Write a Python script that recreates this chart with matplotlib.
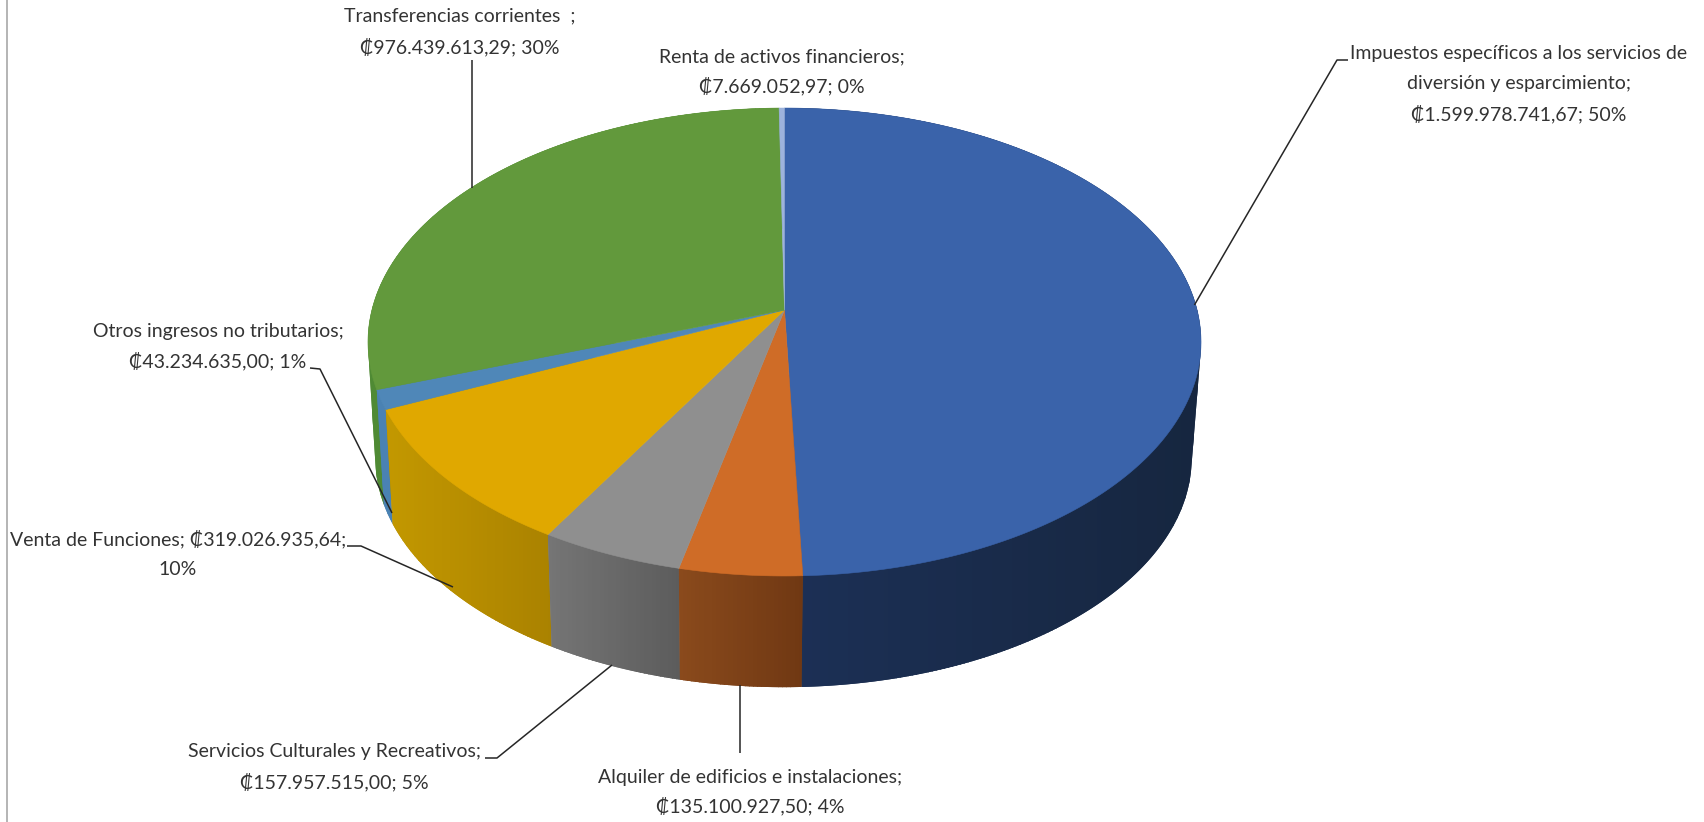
import numpy as np
import matplotlib
matplotlib.use("Agg")
import matplotlib.pyplot as plt
from matplotlib.patches import Polygon
from matplotlib.colors import to_rgb

# ---- data (clockwise from 12 o'clock) ----
categories = ["Impuestos específicos a los servicios de\ndiversión y esparcimiento;",
              "Alquiler de edificios e instalaciones;",
              "Servicios Culturales y Recreativos;",
              "Venta de Funciones; ",
              "Otros ingresos no tributarios;",
              "Transferencias corrientes  ;",
              "Renta de activos financieros;"]
values = [1599978741.67, 135100927.50, 157957515.00, 319026935.64,
          43234635.00, 976439613.29, 7669052.97]
amounts = ["₡1.599.978.741,67", "₡135.100.927,50", "₡157.957.515,00", "₡319.026.935,64",
           "₡43.234.635,00", "₡976.439.613,29", "₡7.669.052,97"]
percents = ["50%", "4%", "5%", "10%", "1%", "30%", "0%"]

top_colors = ["#3a63aa", "#cf6c27", "#8f8f8f", "#e0a800", "#4f87b8", "#62993c", "#9db3dc"]
side_left = ["#1c3056", "#8a4a1c", "#757575", "#c39800", "#4a82b3", "#4f8a34", "#6f83a8"]
side_right = ["#16263f", "#703813", "#5c5c5c", "#aa8200", "#4a82b3", "#4f8a34", "#6f83a8"]

CX, CY, RX, RY, K = 784.5, 310.0, 412.6, 229.6, 0.1368
F, CX2, CY2 = 0.98, 783.5, 426.5
TXT = "#333333"
FONT = ["Lato", "DejaVu Sans"]
FS = 14.05


def project(theta, f=1.0, cx=CX, cy=CY):
    """theta measured clockwise from the far point of the disc."""
    X, Y = np.sin(theta), -np.cos(theta)
    d = 1 - K * Y
    return cx + f * RX * X / d, cy + f * RY * Y / d


def hull(pts):
    pts = sorted(set(map(tuple, np.round(pts, 3))))
    def half(seq):
        out = []
        for p in seq:
            while len(out) > 1 and ((out[-1][0] - out[-2][0]) * (p[1] - out[-2][1])
                                    - (out[-1][1] - out[-2][1]) * (p[0] - out[-2][0])) <= 0:
                out.pop()
            out.append(p)
        return out
    lo, up = half(pts), half(pts[::-1])
    return np.array(lo[:-1] + up[:-1])


fig = plt.figure(figsize=(17.04, 8.22), dpi=100, facecolor="white")
ax = fig.add_axes([0, 0, 1, 1])
ax.set_xlim(0, 1704)
ax.set_ylim(822, 0)
ax.axis("off")

# chart-area border at the left
ax.plot([6.5, 6.5], [0, 822], color="#a8a8a8", lw=1.2, zorder=1)

fracs = np.array(values) / np.sum(values)
edges = np.concatenate([[0], np.cumsum(fracs)]) * 2 * np.pi

# side wall: one solid base per slice, then gradient bands clipped to it
order = sorted(range(len(values)),
               key=lambda i: -np.cos((edges[i] + edges[i + 1]) / 2))
for i in order:
    n = max(2, int(np.degrees(edges[i + 1] - edges[i]) * 2))
    th = np.linspace(edges[i], edges[i + 1], n + 1)
    xt, yt = project(th)
    xb, yb = project(th, f=F, cx=CX2, cy=CY2)
    cl, cr = np.array(to_rgb(side_left[i])), np.array(to_rgb(side_right[i]))
    base = hull(np.column_stack([np.r_[xt, xb], np.r_[yt, yb]]))
    clip = Polygon(base, closed=True, facecolor=tuple((cl + cr) / 2), edgecolor="none", zorder=2)
    ax.add_patch(clip)
    xmin, xmax = base[:, 0].min(), base[:, 0].max()
    steps = max(1, int((xmax - xmin) / 4))
    bounds = np.linspace(xmin, xmax, steps + 1)
    for j in range(steps):
        col = tuple(cl + (cr - cl) * (j + 0.5) / steps)
        band = ax.axvspan(bounds[j], bounds[j + 1] + 0.6, color=col, lw=0, zorder=2)
        band.set_clip_path(clip)

# top face
for i in range(len(values)):
    n = max(2, int(np.degrees(edges[i + 1] - edges[i]) * 2))
    th = np.linspace(edges[i], edges[i + 1], n + 1)
    x, y = project(th)
    pts = np.column_stack([np.r_[CX, x], np.r_[CY, y]])
    ax.add_patch(Polygon(pts, closed=True, facecolor=top_colors[i], edgecolor=top_colors[i],
                         lw=0.4, zorder=3))

# leader lines
leaders = [
    ([1348, 1337, 1194.4], [60, 60, 305]),
    ([740, 740], [685, 753]),
    ([485, 497, 612], [758, 758, 665]),
    ([347, 361, 453], [546, 546, 587]),
    ([310, 320, 392], [368, 369, 513]),
    ([471.5, 471.5], [60, 188]),
]
for xs, ys in leaders:
    ax.plot(xs, ys, color="#262626", lw=1.1, zorder=4, solid_capstyle="butt")

# labels: two or three centred lines built from the data arrays
label_pos = [
    (1519, [53, 84, 114]),
    (750, [777, 806]),
    (334, [751, 782]),
    (178, [539, 569]),
    (218, [331, 361]),
    (460, [16, 47]),
    (781.5, [57, 86]),
]
for i, (x, ys) in enumerate(label_pos):
    if i == 3:
        lines = [categories[i] + amounts[i] + ";", percents[i]]
    else:
        lines = categories[i].split("\n") + [f"{amounts[i]}; {percents[i]}"]
    for y, s in zip(ys, lines):
        ax.text(x, y, s, ha="center", va="center", color=TXT, fontsize=FS, family=FONT, zorder=5)

fig.savefig("out.png", dpi=100, facecolor="white")
